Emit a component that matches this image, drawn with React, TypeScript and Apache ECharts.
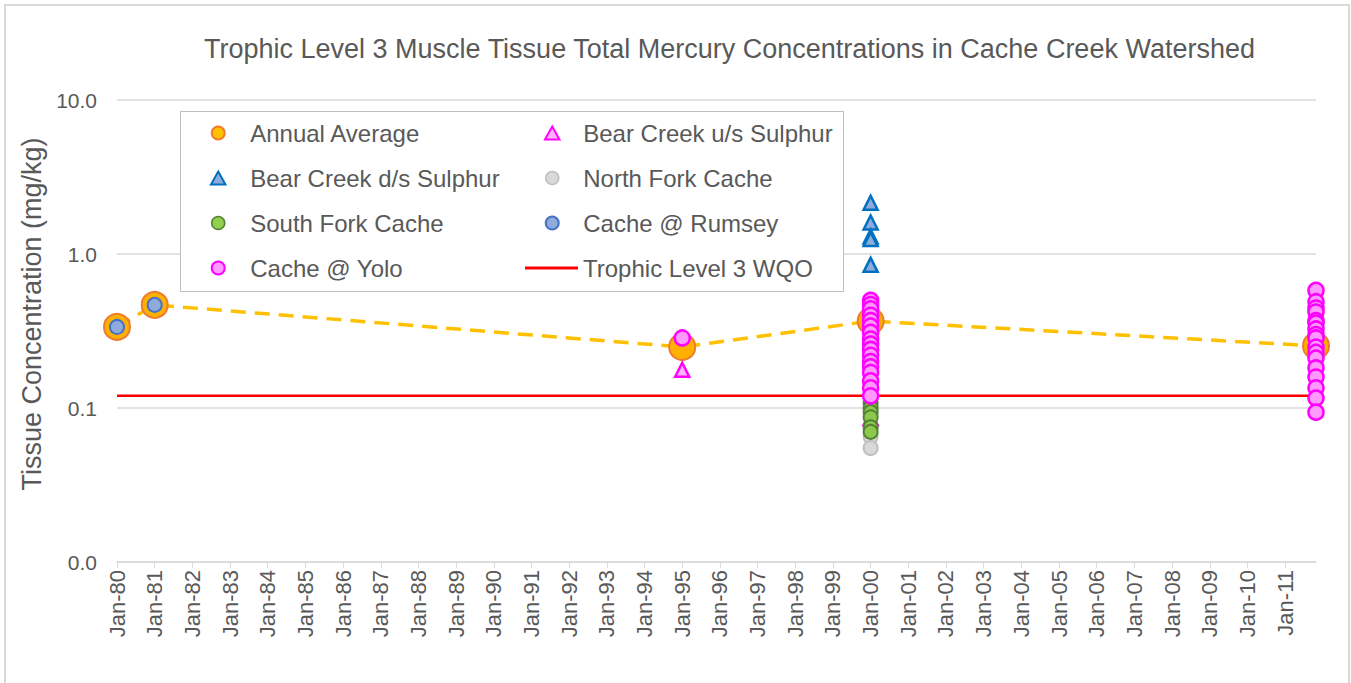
import React, { useEffect, useRef } from "react";
import * as echarts from "echarts";

const FONT = "'Liberation Sans', Arial, sans-serif";
const TEXT = "#595959";

// ---- data ----
const avgDates = ["1980-01-01", "1981-01-01", "1995-01-01", "2000-01-01", "2011-10-27"];
const avgValues = [0.336, 0.467, 0.249, 0.367, 0.253];

const bearDsDates = ["2000-01-01", "2000-01-01", "2000-01-01", "2000-01-01", "2000-01-01"];
const bearDsValues = [2.15, 1.6, 1.3, 1.25, 0.85];

const bearUsDates = ["1995-01-01", "2000-01-01"];
const bearUsValues = [0.177, 0.086];

const northForkDates = ["2000-01-01", "2000-01-01"];
const northForkValues = [0.065, 0.055];

const southForkDates = ["2000-01-01", "2000-01-01", "2000-01-01", "2000-01-01", "2000-01-01", "2000-01-01"];
const southForkValues = [0.108, 0.1, 0.094, 0.087, 0.075, 0.07];

const rumseyDates = ["1980-01-01", "1981-01-01", "2000-01-01"];
const rumseyValues = [0.336, 0.467, 0.137];

const yolo1995 = [0.285];
const yolo2000 = [0.5, 0.47, 0.44, 0.4, 0.37, 0.34, 0.31, 0.28, 0.26, 0.24, 0.22, 0.2, 0.185, 0.17, 0.15, 0.135, 0.12];
const yolo2011 = [0.58, 0.49, 0.446, 0.42, 0.37, 0.356, 0.326, 0.3, 0.285, 0.249, 0.23, 0.211, 0.182, 0.159, 0.135, 0.116, 0.094];

const wqoValue = 0.12;
const xStart = "1980-01-01";
const xEnd = "2011-10-27";
const tickYears = Array.from({ length: 32 }, (_, i) => 1980 + i);
const yTicks = [0.01, 0.1, 1, 10];

function toYear(s: string): number {
  const d = new Date(s + "T00:00:00Z");
  const y = d.getUTCFullYear();
  const start = Date.UTC(y, 0, 1);
  const end = Date.UTC(y + 1, 0, 1);
  return y + (d.getTime() - start) / (end - start);
}

function pairs(dates: string[], values: number[]) {
  return dates.map((d, i) => [toYear(d), values[i]]);
}

const triPath = "path://M5,0L10,9L0,9Z";

export default function App() {
  const ref = useRef<HTMLDivElement>(null);

  useEffect(() => {
    if (!ref.current) return;
    const chart = echarts.init(ref.current, undefined, { renderer: "svg" });
    const xMin = toYear(xStart);
    const xMax = toYear(xEnd);

    const yoloData = [
      ...yolo1995.map((v) => [toYear("1995-01-01"), v]),
      ...yolo2000.map((v) => [toYear("2000-01-01"), v]),
      ...yolo2011.map((v) => [toYear("2011-10-27"), v]),
    ];

    const legendText = { color: TEXT, fontSize: 24, fontFamily: FONT, lineHeight: 24 };

    const option: any = {
      animation: false,
      backgroundColor: "#ffffff",
      title: {
        text: "Trophic Level 3 Muscle Tissue Total Mercury Concentrations in Cache Creek Watershed",
        left: 204,
        top: 35,
        padding: 0,
        textStyle: { color: TEXT, fontSize: 27, fontWeight: "normal", fontFamily: FONT },
      },
      graphic: [
        {
          type: "rect",
          z: 0,
          shape: { x: 5, y: 5, width: 1344, height: 720 },
          style: { fill: "none", stroke: "#d9d9d9", lineWidth: 2 },
        },
        {
          type: "rect",
          z: 3,
          shape: { x: 180.5, y: 111.5, width: 663, height: 180 },
          style: { fill: "#ffffff", stroke: "#bfbfbf", lineWidth: 1 },
        },
      ],
      legend: [
        {
          orient: "vertical",
          left: 210,
          top: 121,
          padding: 0,
          itemGap: 21,
          itemWidth: 54,
          itemHeight: 13,
          textStyle: legendText,
          data: [
            { name: "Annual Average", icon: "circle", itemStyle: { color: "#FFC000", borderColor: "#ED7D31", borderWidth: 2 } },
            { name: "Bear Creek d/s Sulphur", icon: triPath, itemStyle: { color: "#8FAADC", borderColor: "#0070C0", borderWidth: 2 } },
            { name: "South Fork Cache", icon: "circle", itemStyle: { color: "#92D050", borderColor: "#548235", borderWidth: 1.5 } },
            { name: "Cache @ Yolo", icon: "circle", itemStyle: { color: "#FF99FF", borderColor: "#FF00FF", borderWidth: 2 } },
          ],
        },
        {
          orient: "vertical",
          left: 544,
          top: 121,
          padding: 0,
          itemGap: 21,
          itemWidth: 52,
          itemHeight: 13,
          textStyle: legendText,
          data: [
            { name: "Bear Creek u/s Sulphur", icon: triPath, itemStyle: { color: "#FFB3FF", borderColor: "#FF00FF", borderWidth: 2 } },
            { name: "North Fork Cache", icon: "circle", itemStyle: { color: "#D9D9D9", borderColor: "#BFBFBF", borderWidth: 1.5 } },
            { name: "Cache @ Rumsey", icon: "circle", itemStyle: { color: "#8FAADC", borderColor: "#4472C4", borderWidth: 2 } },
          ],
        },
        {
          orient: "vertical",
          left: 525,
          top: 256,
          padding: 0,
          itemWidth: 53,
          itemHeight: 3,
          textStyle: legendText,
          data: [{ name: "Trophic Level 3 WQO", icon: "rect", itemStyle: { color: "#FF0000", borderWidth: 0 } }],
        },
      ],
      grid: { left: 117, right: 35, top: 100, bottom: 121, containLabel: false },
      xAxis: {
        type: "value",
        min: xMin,
        max: xMax,
        interval: 1,
        splitLine: { show: false },
        axisLine: { show: true, lineStyle: { color: "#d9d9d9", width: 1.5 } },
        axisTick: { show: true, length: 6, lineStyle: { color: "#d9d9d9" }, customValues: tickYears },
        axisLabel: {
          rotate: 90,
          margin: 8,
          color: TEXT,
          fontSize: 22,
          fontFamily: FONT,
          customValues: tickYears,
          formatter: (v: number) => "Jan-" + String(Math.round(v) % 100).padStart(2, "0"),
        },
      },
      yAxis: {
        type: "log",
        logBase: 10,
        min: 0.01,
        max: 10,
        name: "Tissue Concentration (mg/kg)",
        nameLocation: "middle",
        nameGap: 58,
        nameTextStyle: { color: TEXT, fontSize: 27, fontFamily: FONT, padding: [0, 0, 0, 34] },
        axisLine: { show: false },
        axisTick: { show: false },
        splitLine: { show: true, lineStyle: { color: "#d9d9d9", width: 1.5 } },
        axisLabel: {
          margin: 20,
          color: TEXT,
          fontSize: 21,
          fontFamily: FONT,
          customValues: yTicks,
          formatter: (v: number) => v.toFixed(1),
        },
      },
      series: [
        {
          name: "Trophic Level 3 WQO",
          type: "line",
          z: 1,
          data: [[xMin, wqoValue], [xMax, wqoValue]],
          symbol: "none",
          lineStyle: { color: "#FF0000", width: 2.5 },
          itemStyle: { color: "#FF0000" },
          silent: true,
        },
        {
          name: "Annual Average",
          type: "line",
          z: 1,
          data: pairs(avgDates, avgValues),
          symbol: "circle",
          symbolSize: 26,
          lineStyle: { color: "#FFC000", width: 3.5, type: [15, 9] },
          itemStyle: { color: "#FFB000", borderColor: "#ED7D31", borderWidth: 2 },
        },
        {
          name: "Bear Creek d/s Sulphur",
          type: "scatter",
          data: pairs(bearDsDates, bearDsValues),
          symbol: "triangle",
          symbolSize: 14,
          itemStyle: { color: "#8FAADC", borderColor: "#0070C0", borderWidth: 2.5, opacity: 1 },
        },
        {
          name: "Bear Creek u/s Sulphur",
          type: "scatter",
          data: pairs(bearUsDates, bearUsValues),
          symbol: "triangle",
          symbolSize: 14,
          itemStyle: { color: "#FFB3FF", borderColor: "#FF00FF", borderWidth: 2.5, opacity: 1 },
        },
        {
          name: "North Fork Cache",
          type: "scatter",
          data: pairs(northForkDates, northForkValues),
          symbol: "circle",
          symbolSize: 14,
          itemStyle: { color: "#D9D9D9", borderColor: "#BFBFBF", borderWidth: 2, opacity: 1 },
        },
        {
          name: "South Fork Cache",
          type: "scatter",
          data: pairs(southForkDates, southForkValues),
          symbol: "circle",
          symbolSize: 14,
          itemStyle: { color: "#8CC84B", borderColor: "#548235", borderWidth: 2, opacity: 1 },
        },
        {
          name: "Cache @ Rumsey",
          type: "scatter",
          data: pairs(rumseyDates, rumseyValues),
          symbol: "circle",
          symbolSize: 14,
          itemStyle: { color: "#8FAADC", borderColor: "#4472C4", borderWidth: 2, opacity: 1 },
        },
        {
          name: "Cache @ Yolo",
          type: "scatter",
          data: yoloData,
          symbol: "circle",
          symbolSize: 15,
          itemStyle: { color: "#FF99FF", borderColor: "#FF00FF", borderWidth: 2.5, opacity: 1 },
        },
      ],
    };

    chart.setOption(option);
    return () => chart.dispose();
  }, []);

  return (
    <div
      ref={ref}
      style={{ position: "absolute", left: 0, top: 0, width: 1351, height: 683 }}
    />
  );
}
